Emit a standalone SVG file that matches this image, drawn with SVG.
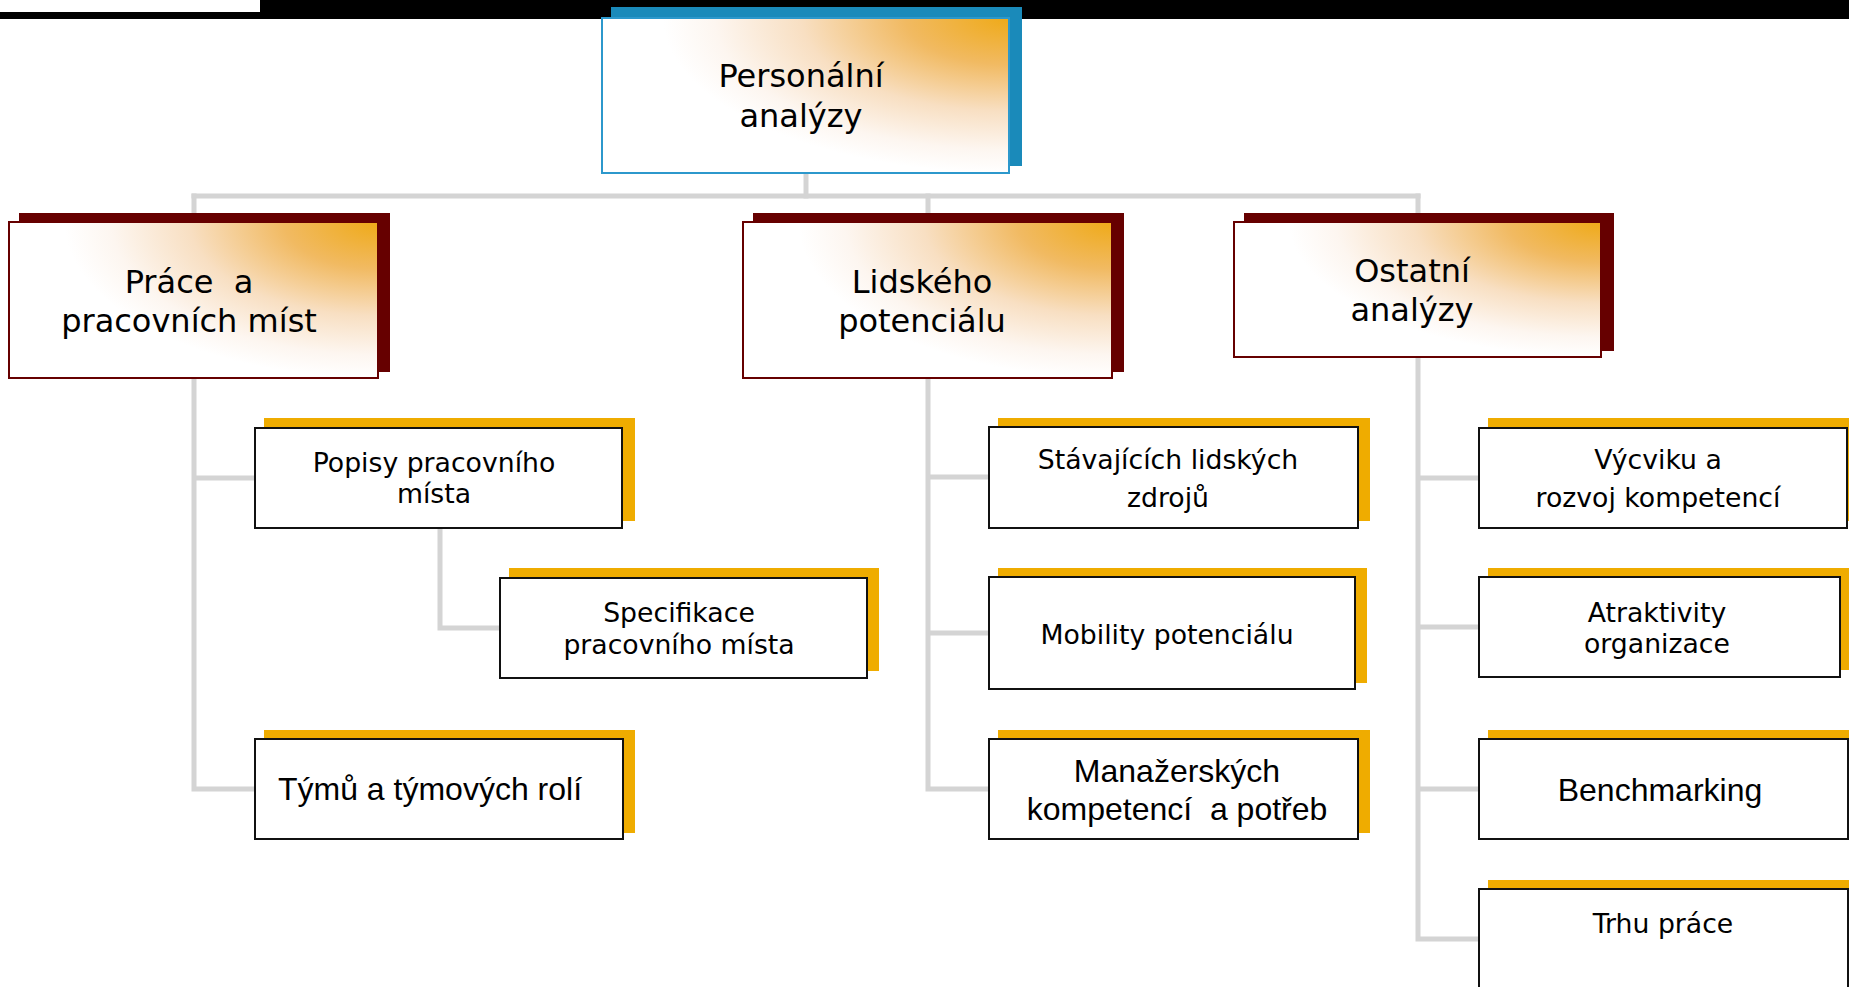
<svg xmlns="http://www.w3.org/2000/svg" width="1849" height="987" viewBox="0 0 1849 987">
<style>
.conn{fill:none;stroke:#d4d4d4;stroke-width:5;stroke-linecap:square;stroke-linejoin:miter}
.box-top{fill:url(#g);stroke:#2c98cc;stroke-width:2}
.sh-top{fill:#1a8aba}
.box2{fill:url(#g);stroke:#660000;stroke-width:2}
.sh2{fill:#660000}
.box3{fill:#ffffff;stroke:#111111;stroke-width:2}
.sh3{fill:#efac00}
.t1{font-family:"DejaVu Sans",Verdana,sans-serif;font-size:32px;fill:#000;text-anchor:middle}
.t3{font-family:"DejaVu Sans",Verdana,sans-serif;font-size:26.7px;fill:#000;text-anchor:middle}
.ta{font-family:"Liberation Sans",Arial,sans-serif;font-size:32px;fill:#000;text-anchor:middle}
</style>
<defs>
<radialGradient id="g" cx="1" cy="0" r="1" fx="1" fy="0" gradientTransform="translate(1,0) scale(0.85,1) translate(-1,0)">
<stop offset="0" stop-color="#efaa18"/>
<stop offset="0.3" stop-color="#f1ba62"/>
<stop offset="0.6" stop-color="#f8dfc2"/>
<stop offset="0.85" stop-color="#fdf6f0"/>
<stop offset="1" stop-color="#ffffff"/>
</radialGradient>
</defs>
<rect x="0" y="0" width="1849" height="987" fill="#ffffff"/>
<g id="header">
<rect x="0" y="0" width="1849" height="19" fill="#000000"/>
<rect x="0" y="0" width="260" height="12" fill="#ffffff"/>
</g>
<g id="connectors">
<path class="conn" d="M806,173 V196"/>
<path class="conn" d="M194,196 H1418"/>
<path class="conn" d="M194,196 V789 H255 M194,478 H255"/>
<path class="conn" d="M440,528 V628 H500"/>
<path class="conn" d="M928,196 V789 H989 M928,477 H989 M928,633 H989"/>
<path class="conn" d="M1418,196 V939 H1479 M1418,478 H1479 M1418,627 H1479 M1418,789 H1479"/>
</g>
<g id="n-root">
<rect class="sh-top" x="611" y="7" width="411" height="159"/>
<rect class="box-top" x="602" y="18" width="407" height="155"/>
<text class="t1" x="801" y="87">Personální</text>
<text class="t1" x="801" y="127">analýzy</text>
</g>
<g id="n-prace">
<rect class="sh2" x="19" y="213" width="371" height="159"/>
<rect class="box2" x="9" y="222" width="369" height="156"/>
<text class="t1" x="189" y="293" xml:space="preserve">Práce  a</text>
<text class="t1" x="189" y="332">pracovních míst</text>
</g>
<g id="n-lidskeho">
<rect class="sh2" x="753" y="213" width="371" height="159"/>
<rect class="box2" x="743" y="222" width="369" height="156"/>
<text class="t1" x="922" y="293">Lidského</text>
<text class="t1" x="922" y="332">potenciálu</text>
</g>
<g id="n-ostatni">
<rect class="sh2" x="1244" y="213" width="370" height="138"/>
<rect class="box2" x="1234" y="222" width="367" height="135"/>
<text class="t1" x="1412" y="282">Ostatní</text>
<text class="t1" x="1412" y="321">analýzy</text>
</g>
<g id="n-popisy">
<rect class="sh3" x="264" y="418" width="371" height="103"/>
<rect class="box3" x="255" y="428" width="367" height="100"/>
<text class="t3" x="434" y="472">Popisy pracovního</text>
<text class="t3" x="434" y="503">místa</text>
</g>
<g id="n-specifikace">
<rect class="sh3" x="509" y="568" width="370" height="103"/>
<rect class="box3" x="500" y="578" width="367" height="100"/>
<text class="t3" x="679" y="622">Specifikace</text>
<text class="t3" x="679" y="654">pracovního místa</text>
</g>
<g id="n-tymu">
<rect class="sh3" x="264" y="730" width="371" height="103"/>
<rect class="box3" x="255" y="739" width="368" height="100"/>
<text class="ta" x="430" y="800">Týmů a týmových rolí</text>
</g>
<g id="n-stavajicich">
<rect class="sh3" x="998" y="418" width="372" height="103"/>
<rect class="box3" x="989" y="427" width="369" height="101"/>
<text class="t3" x="1168" y="469">Stávajících lidských</text>
<text class="t3" x="1168" y="507">zdrojů</text>
</g>
<g id="n-mobility">
<rect class="sh3" x="998" y="568" width="369" height="115"/>
<rect class="box3" x="989" y="577" width="366" height="112"/>
<text class="t3" x="1167" y="644">Mobility potenciálu</text>
</g>
<g id="n-manazerskych">
<rect class="sh3" x="998" y="730" width="372" height="103"/>
<rect class="box3" x="989" y="739" width="369" height="100"/>
<text class="ta" x="1177" y="782">Manažerských</text>
<text class="ta" x="1177" y="820" xml:space="preserve">kompetencí  a potřeb</text>
</g>
<g id="n-vycviku">
<rect class="sh3" x="1488" y="418" width="371" height="103"/>
<rect class="box3" x="1479" y="428" width="368" height="100"/>
<text class="t3" x="1658" y="469">Výcviku a</text>
<text class="t3" x="1658" y="507">rozvoj kompetencí</text>
</g>
<g id="n-atraktivity">
<rect class="sh3" x="1488" y="568" width="361" height="102"/>
<rect class="box3" x="1479" y="577" width="361" height="100"/>
<text class="t3" x="1657" y="622">Atraktivity</text>
<text class="t3" x="1657" y="653">organizace</text>
</g>
<g id="n-benchmarking">
<rect class="sh3" x="1488" y="730" width="372" height="103"/>
<rect class="box3" x="1479" y="739" width="369" height="100"/>
<text class="ta" x="1660" y="801">Benchmarking</text>
</g>
<g id="n-trhu">
<rect class="sh3" x="1488" y="880" width="372" height="120"/>
<rect class="box3" x="1479" y="889" width="369" height="111"/>
<text class="t3" x="1663" y="933">Trhu práce</text>
</g>
</svg>
